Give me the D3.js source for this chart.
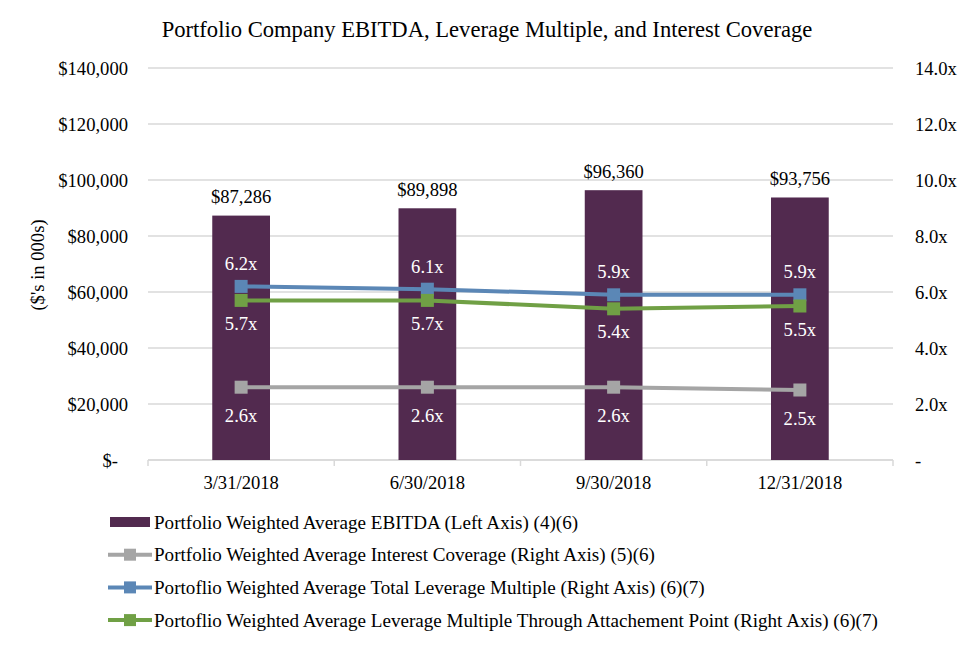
<!DOCTYPE html>
<html><head><meta charset="utf-8">
<script src="https://cdn.jsdelivr.net/npm/d3@7"></script>
<style>body{margin:0;background:#fff}svg{display:block}text{font-family:"Liberation Serif","Times New Roman",serif;}</style>
</head><body><svg id="c" width="974" height="647"></svg>
<script>
const categories = ["3/31/2018","6/30/2018","9/30/2018","12/31/2018"];
const ebitda = [87286, 89898, 96360, 93756];
const interestCoverage = [2.6, 2.6, 2.6, 2.5];
const totalLeverage = [6.2, 6.1, 5.9, 5.9];
const attachLeverage = [5.7, 5.7, 5.4, 5.5];
const leftTicks = [0,20000,40000,60000,80000,100000,120000,140000];
const rightTicks = [0,2,4,6,8,10,12,14];
const legendLabels = [
 "Portfolio Weighted Average EBITDA (Left Axis) (4)(6)",
 "Portfolio Weighted Average Interest Coverage (Right Axis) (5)(6)",
 "Portoflio Weighted Average Total Leverage Multiple (Right Axis) (6)(7)",
 "Portoflio Weighted Average Leverage Multiple Through Attachement Point (Right Axis) (6)(7)"
];
const title = "Portfolio Company EBITDA, Leverage Multiple, and Interest Coverage";

const svg = d3.select("#c");
const L = 148, R = 893, T = 68, B = 460;
const x = d3.scaleBand().domain(categories).range([L, R]).paddingInner(0.69).paddingOuter(0.345);
const xc = d => x(d) + x.bandwidth()/2;
const yL = d3.scaleLinear().domain([0,140000]).range([B,T]);
const yR = d3.scaleLinear().domain([0,14]).range([B,T]);
const purple = "#522a4f", gray = "#a5a5a5", blue = "#5b87b6", green = "#70a045";
const FF = "Liberation Serif, Times New Roman, serif";

svg.append("text").attr("x",487).attr("y",37).attr("text-anchor","middle").attr("font-size",22.6).text(title);

// gridlines
svg.append("g").selectAll("line").data(leftTicks).join("line")
 .attr("x1",L).attr("x2",R).attr("y1",d=>yL(d)).attr("y2",d=>yL(d))
 .attr("stroke","#d9d9d9").attr("stroke-width",1.5);

// left axis
const fmtL = d => d===0 ? "$-" : "$" + d3.format(",")(d);
svg.append("g").attr("transform",`translate(${L-20},0)`)
 .call(d3.axisLeft(yL).tickValues(leftTicks).tickFormat(fmtL).tickSize(0).tickPadding(0))
 .call(g=>g.select(".domain").remove())
 .call(g=>g.selectAll("text").attr("font-size",18.6).attr("fill","#000").attr("font-family",FF).attr("dy","0.35em").attr("dx",d=>d===0?-10:0));

// right axis
const fmtR = d => d===0 ? "-" : d3.format(".1f")(d) + "x";
svg.append("g").attr("transform",`translate(${R+22},0)`)
 .call(d3.axisRight(yR).tickValues(rightTicks).tickFormat(fmtR).tickSize(0).tickPadding(0))
 .call(g=>g.select(".domain").remove())
 .call(g=>g.selectAll("text").attr("font-size",18.6).attr("fill","#000").attr("font-family",FF).attr("dy","0.35em"));

// axis title
svg.append("text").attr("transform","translate(44,265) rotate(-90)").attr("text-anchor","middle").attr("font-size",18.6).text("($'s in 000s)");

// x axis
const xg = svg.append("g").attr("transform",`translate(0,${B})`);
xg.append("line").attr("x1",L).attr("x2",R).attr("stroke","#d9d9d9").attr("stroke-width",1.5);
const bounds = [L].concat(categories.map(c=>x(c)+x.bandwidth()+x.step()*x.paddingInner()/2));
xg.selectAll(".tk").data(bounds).join("line").attr("class","tk")
 .attr("x1",d=>d).attr("x2",d=>d).attr("y1",0).attr("y2",6).attr("stroke","#d9d9d9").attr("stroke-width",1.5);
xg.selectAll(".cl").data(categories).join("text").attr("class","cl")
 .attr("x",d=>xc(d)).attr("y",29).attr("text-anchor","middle").attr("font-size",18.6).text(d=>d);

// bars
svg.append("g").selectAll("rect").data(categories).join("rect")
 .attr("x",d=>x(d)).attr("width",x.bandwidth())
 .attr("y",(d,i)=>yL(ebitda[i])).attr("height",(d,i)=>B-yL(ebitda[i])).attr("fill",purple);
svg.append("g").selectAll("text").data(categories).join("text")
 .attr("x",d=>xc(d)).attr("y",(d,i)=>yL(ebitda[i])-19).attr("dy","0.35em")
 .attr("text-anchor","middle").attr("font-size",18.6).text((d,i)=>"$"+d3.format(",")(ebitda[i]));

// lines
const series = [
 {vals:interestCoverage,color:gray,off:28},
 {vals:totalLeverage,color:blue,off:-23},
 {vals:attachLeverage,color:green,off:23}
];
const line = d3.line().x(d=>d[0]).y(d=>d[1]);
series.forEach(s=>{
 const pts = categories.map((c,i)=>[xc(c), yR(s.vals[i])]);
 const g = svg.append("g");
 g.append("path").attr("d",line(pts)).attr("fill","none").attr("stroke",s.color).attr("stroke-width",4);
 g.selectAll("rect").data(pts).join("rect").attr("x",d=>d[0]-6.5).attr("y",d=>d[1]-6.5)
  .attr("width",13).attr("height",13).attr("fill",s.color);
 g.selectAll("text").data(pts).join("text").attr("x",d=>d[0]).attr("y",d=>d[1]+s.off).attr("dy","0.35em")
  .attr("text-anchor","middle").attr("font-size",18.6).attr("fill","#fff").text((d,i)=>d3.format(".1f")(s.vals[i])+"x");
});

// legend
const lg = svg.append("g");
const colors = [purple, gray, blue, green];
legendLabels.forEach((t,i)=>{
 const cy = 522 + i*32.7;
 if(i===0){
  lg.append("rect").attr("x",110).attr("y",cy-5).attr("width",40).attr("height",10).attr("fill",purple);
 } else {
  lg.append("line").attr("x1",108).attr("x2",152).attr("y1",cy).attr("y2",cy).attr("stroke",colors[i]).attr("stroke-width",4);
  lg.append("rect").attr("x",124).attr("y",cy-6).attr("width",12).attr("height",12).attr("fill",colors[i]);
 }
 lg.append("text").attr("x",154).attr("y",cy).attr("dy","0.35em").attr("font-size",19.1).text(t);
});
</script></body></html>
